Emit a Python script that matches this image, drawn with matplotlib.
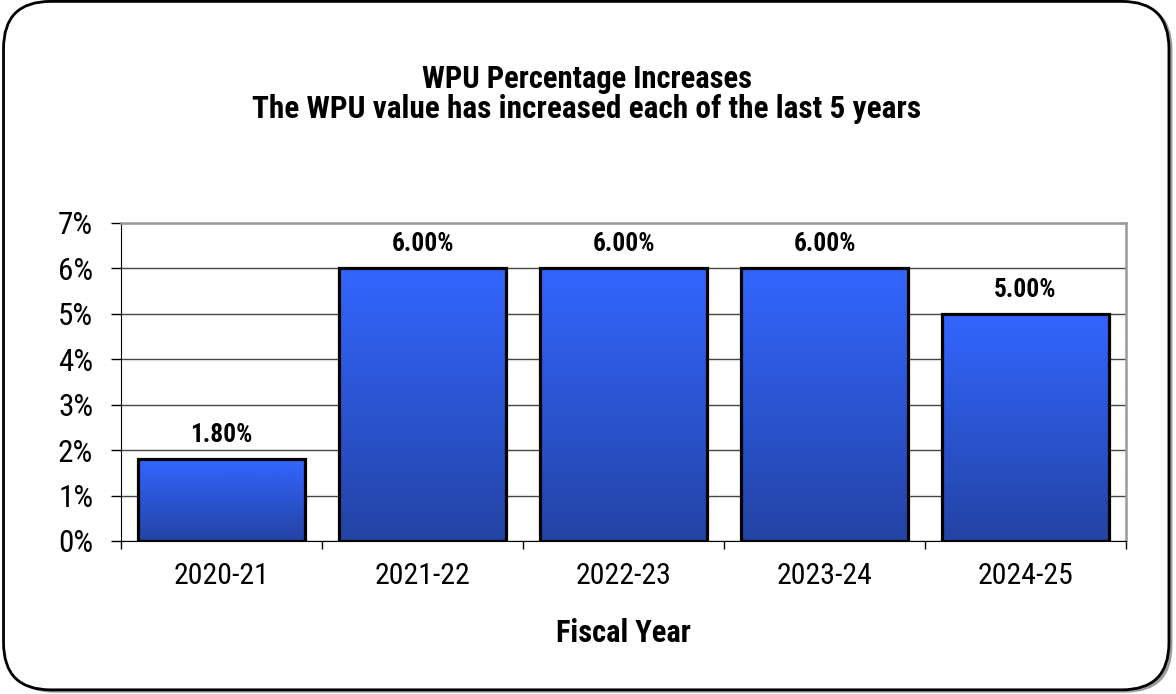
import matplotlib.pyplot as plt
import numpy as np
from matplotlib.patches import FancyBboxPatch
from matplotlib.colors import LinearSegmentedColormap

plt.rcParams['font.family'] = ['Roboto Condensed', 'Liberation Sans', 'DejaVu Sans']

years = ['2020-21', '2021-22', '2022-23', '2023-24', '2024-25']
increases = [1.80, 6.00, 6.00, 6.00, 5.00]
labels = ['1.80%', '6.00%', '6.00%', '6.00%', '5.00%']
yticks = [0, 1, 2, 3, 4, 5, 6, 7]
title_lines = ['WPU Percentage Increases', 'The WPU value has increased each of the last 5 years']

fig = plt.figure(figsize=(11.76, 6.94), dpi=100)

# shadow + rounded frame
shadow = FancyBboxPatch((0.006, 0.002), 0.991, 0.994, boxstyle="round,pad=0,rounding_size=0.04",
                        transform=fig.transFigure, facecolor='#9a9a9a', edgecolor='none',
                        mutation_aspect=1176/694, zorder=-3)
fig.patches.append(shadow)
frame = FancyBboxPatch((0.003, 0.006), 0.991, 0.992, boxstyle="round,pad=0,rounding_size=0.04",
                       transform=fig.transFigure, facecolor='white', edgecolor='black', linewidth=2,
                       mutation_aspect=1176/694, zorder=-2)
fig.patches.append(frame)

ax = fig.add_axes([0.1029, 0.2205, 0.8546, 0.4582])
ax.set_facecolor('none')

x = np.arange(len(years))
bars = ax.bar(x, increases, width=0.835, color='none', edgecolor='black', linewidth=2.3, zorder=3)

cmap = LinearSegmentedColormap.from_list('blu', ['#2343a4', '#3366ff'])
grad = np.linspace(0, 1, 256).reshape(-1, 1)
for b in bars:
    x0, y0, w, h = b.get_x(), b.get_y(), b.get_width(), b.get_height()
    im = ax.imshow(grad, cmap=cmap, aspect='auto', origin='lower',
                   extent=[x0, x0 + w, y0, y0 + h], zorder=2)
    im.set_clip_path(b)

for xi, v, lab in zip(x, increases, labels):
    ax.text(xi, v + 0.38, lab, ha='center', va='baseline', fontsize=18.3, fontweight='bold')

ax.set_xlim(-0.5, len(years) - 0.5)
ax.set_ylim(0, 7)
ax.set_yticks(yticks)
ax.set_yticklabels([f'{t}%' for t in yticks], fontsize=22.5)
ax.yaxis.grid(True, color='#444444', linewidth=1, zorder=1)
ax.set_axisbelow(True)

ax.set_xticks(x)
ax.set_xticklabels(years, fontsize=21.5)
ax.set_xticks(np.arange(-0.5, len(years)), minor=True)
ax.tick_params(axis='x', which='major', length=0, pad=15)
ax.tick_params(axis='x', which='minor', length=6, width=1, direction='out')
ax.tick_params(axis='y', length=7, width=1, direction='out', pad=13)

for s in ['top', 'right']:
    ax.spines[s].set_color('#999999')
    ax.spines[s].set_linewidth(1.8)
ax.spines['left'].set_color('black')
ax.spines['bottom'].set_color('black')

ax.set_xlabel('Fiscal Year', fontsize=22, fontweight='bold', labelpad=20)

fig.text(0.499, 0.8732, title_lines[0], ha='center', va='baseline', fontsize=22, fontweight='bold')
fig.text(0.499, 0.8300, title_lines[1], ha='center', va='baseline', fontsize=22.5, fontweight='bold')

fig.savefig('out.png', dpi=100)
